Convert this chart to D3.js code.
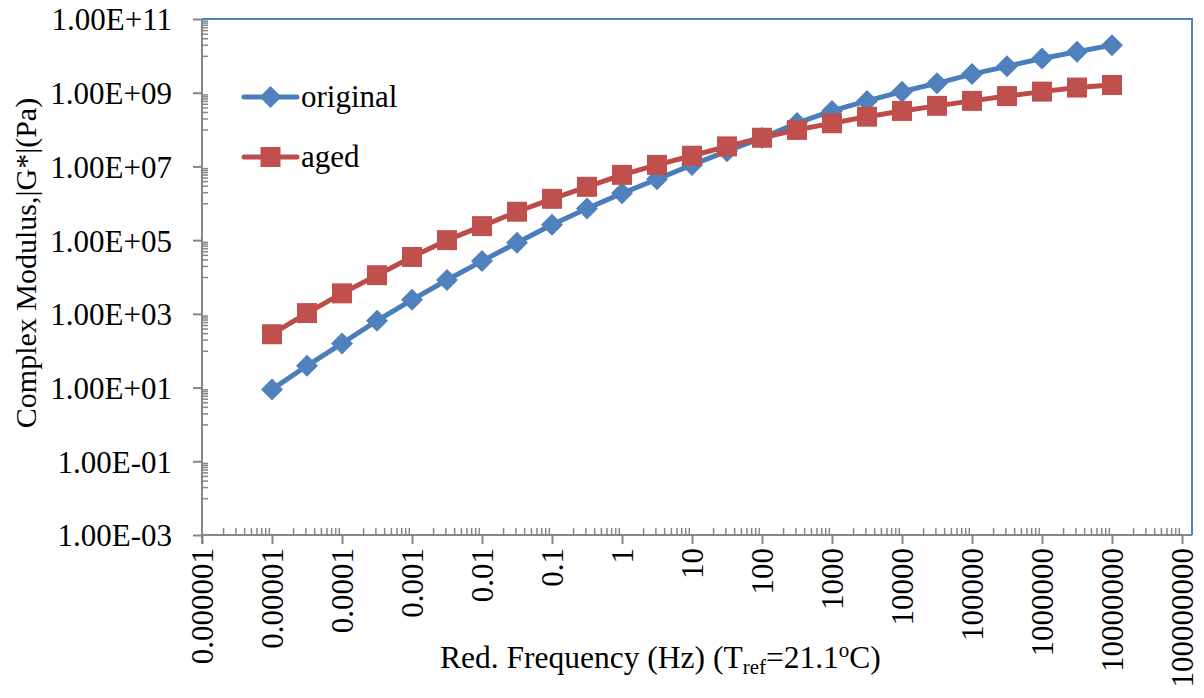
<!DOCTYPE html>
<html>
<head>
<meta charset="utf-8">
<script src="https://cdn.jsdelivr.net/npm/d3@7"></script>
<style>
  html, body { margin: 0; padding: 0; background: #fff; }
  svg { display: block; }
  text { font-family: "Liberation Serif", "Times New Roman", serif; fill: #000; }
</style>
</head>
<body>
<svg id="chart" width="1204" height="698"></svg>
<script>
// ---- data ----
const frequencies = [1e-5, 3.16e-5, 1e-4, 3.16e-4, 1e-3, 3.16e-3, 1e-2, 3.16e-2, 0.1, 0.316, 1, 3.16, 10, 31.6, 100, 316, 1000, 3160, 1e4, 3.16e4, 1e5, 3.16e5, 1e6, 3.16e6, 1e7];
const originalG = [8.9, 3.9e1, 1.58e2, 6.5e2, 2.4e3, 8.3e3, 2.7e4, 8.5e4, 2.6e5, 7.2e5, 1.86e6, 4.5e6, 1.1e7, 2.6e7, 5.9e7, 1.5e8, 3.2e8, 6.0e8, 1.07e9, 1.8e9, 3.2e9, 5.2e9, 8.5e9, 1.29e10, 1.95e10];
const agedG = [2.8e2, 1.05e3, 3.6e3, 1.12e4, 3.5e4, 1.0e5, 2.4e5, 5.9e5, 1.32e6, 2.8e6, 5.9e6, 1.1e7, 1.95e7, 3.5e7, 6.0e7, 9.8e7, 1.48e8, 2.24e8, 3.2e8, 4.4e8, 6.0e8, 8.1e8, 1.07e9, 1.38e9, 1.62e9];
const seriesNames = ["original", "aged"];
const xTickValues = [1e-6, 1e-5, 1e-4, 1e-3, 1e-2, 1e-1, 1, 10, 100, 1000, 1e4, 1e5, 1e6, 1e7, 1e8];
const xTickLabels = ["0.000001", "0.00001", "0.0001", "0.001", "0.01", "0.1", "1", "10", "100", "1000", "10000", "100000", "1000000", "10000000", "100000000"];
const yTickValues = [1e-3, 1e-1, 1e1, 1e3, 1e5, 1e7, 1e9, 1e11];
const yTickLabels = ["1.00E-03", "1.00E-01", "1.00E+01", "1.00E+03", "1.00E+05", "1.00E+07", "1.00E+09", "1.00E+11"];

// ---- layout ----
const L = 202, R = 1182, T = 19, B = 535, frameRight = 1192;
const FONT = 31;
const SERIF = '"Liberation Serif", "Times New Roman", serif';
const axisColor = "#868686";
const blue = "#4F81BD", red = "#C0504D";
const blueLine = "#4A7EBB", redLine = "#BE4B48";

const svg = d3.select("#chart");
const x = d3.scaleLog().domain([1e-6, 1e8]).range([L, R]);
const y = d3.scaleLog().domain([1e-3, 1e11]).range([B, T]);

// plot border (top + right)
svg.append("path")
  .attr("d", `M${L},${T}H${frameRight}V${B}`)
  .attr("fill", "none").attr("stroke", blue).attr("stroke-width", 2);

// minor ticks
const xMinor = [];
for (let i = 0; i < xTickValues.length - 1; i++) for (let k = 2; k <= 9; k++) xMinor.push(xTickValues[i] * k);
const yMinor = [];
for (let i = 0; i < yTickValues.length - 1; i++) for (let k = 1; k <= 9; k++) yMinor.push(yTickValues[i] * 10 * k);

const xMinorAxis = svg.append("g").attr("transform", `translate(0,${B})`)
  .call(d3.axisBottom(x).tickValues(xMinor).tickSize(-7).tickSizeOuter(0).tickFormat(""));
const yMinorAxis = svg.append("g").attr("transform", `translate(${L},0)`)
  .call(d3.axisLeft(y).tickValues(yMinor).tickSize(-6).tickSizeOuter(0).tickFormat(""));
[xMinorAxis, yMinorAxis].forEach(g => {
  g.select(".domain").remove();
  g.selectAll(".tick line").attr("stroke", axisColor).attr("stroke-width", 1.5);
});

// major axes
const xAxis = svg.append("g").attr("transform", `translate(0,${B})`)
  .call(d3.axisBottom(x).tickValues(xTickValues).tickSize(9).tickSizeOuter(0)
    .tickFormat((d, i) => xTickLabels[i]));
xAxis.select(".domain").remove();
xAxis.selectAll(".tick line").attr("stroke", axisColor).attr("stroke-width", 2);
xAxis.selectAll(".tick text")
  .attr("transform", "rotate(-90)")
  .attr("x", -13).attr("y", 0).attr("dy", "0.35em")
  .attr("text-anchor", "end")
  .style("font-family", SERIF)
  .style("font-size", FONT + "px").attr("fill", "#000");

const yAxis = svg.append("g").attr("transform", `translate(${L},0)`)
  .call(d3.axisLeft(y).tickValues(yTickValues).tickSize(9).tickSizeOuter(0)
    .tickFormat((d, i) => yTickLabels[i]));
yAxis.select(".domain").remove();
yAxis.selectAll(".tick line").attr("stroke", axisColor).attr("stroke-width", 2);
yAxis.selectAll(".tick text")
  .attr("x", -30).attr("dy", "0.35em")
  .style("font-family", SERIF)
  .style("font-size", FONT + "px").attr("fill", "#000");

// axis lines
svg.append("line").attr("x1", L).attr("x2", frameRight).attr("y1", B).attr("y2", B)
  .attr("stroke", axisColor).attr("stroke-width", 2);
svg.append("line").attr("x1", L).attr("x2", L).attr("y1", T).attr("y2", B + 9)
  .attr("stroke", axisColor).attr("stroke-width", 2);

// series
const diamond = s => `M0,${-s}L${s},0L0,${s}L${-s},0Z`;
const square = s => `M${-s},${-s}H${s}V${s}H${-s}Z`;
const series = [
  { name: seriesNames[0], values: originalG, line: blueLine, fill: blue, shape: diamond(11) },
  { name: seriesNames[1], values: agedG, line: redLine, fill: red, shape: square(10) }
];
const line = d3.line().x(d => x(d[0])).y(d => y(d[1]));

series.forEach(s => {
  const pts = frequencies.map((f, i) => [f, s.values[i]]);
  svg.append("path").datum(pts).attr("d", line)
    .attr("fill", "none").attr("stroke", s.line).attr("stroke-width", 5)
    .attr("stroke-linejoin", "round").attr("stroke-linecap", "round");
  svg.append("g").selectAll("path").data(pts).join("path")
    .attr("transform", d => `translate(${x(d[0])},${y(d[1])})`)
    .attr("d", s.shape).attr("fill", s.fill);
});

// legend
const legendY = [97, 157];
series.forEach((s, i) => {
  const g = svg.append("g").attr("transform", `translate(0,${legendY[i]})`);
  g.append("line").attr("x1", 244).attr("x2", 297).attr("y1", 0).attr("y2", 0)
    .attr("stroke", s.line).attr("stroke-width", 5).attr("stroke-linecap", "round");
  g.append("path").attr("transform", "translate(270.5,0)").attr("d", s.shape).attr("fill", s.fill);
  g.append("text").attr("x", 301).attr("y", 10).style("font-family", SERIF)
    .style("font-size", FONT + "px").text(s.name);
});

// axis titles
const xt = svg.append("text").attr("x", 440).attr("y", 668)
  .style("font-family", SERIF).style("font-size", "31.5px");
xt.append("tspan").text("Red. Frequency (Hz) (T");
xt.append("tspan").attr("dy", 6).style("font-size", "21px").text("ref");
xt.append("tspan").attr("dy", -6).text("=21.1");
xt.append("tspan").attr("dy", -11).style("font-size", "21px").text("o");
xt.append("tspan").attr("dy", 11).text("C)");

svg.append("text")
  .attr("transform", "translate(36,263) rotate(-90)")
  .attr("text-anchor", "middle")
  .style("font-family", SERIF)
  .style("font-size", "30px")
  .text("Complex Modulus,|G*|(Pa)");
</script>
</body>
</html>
